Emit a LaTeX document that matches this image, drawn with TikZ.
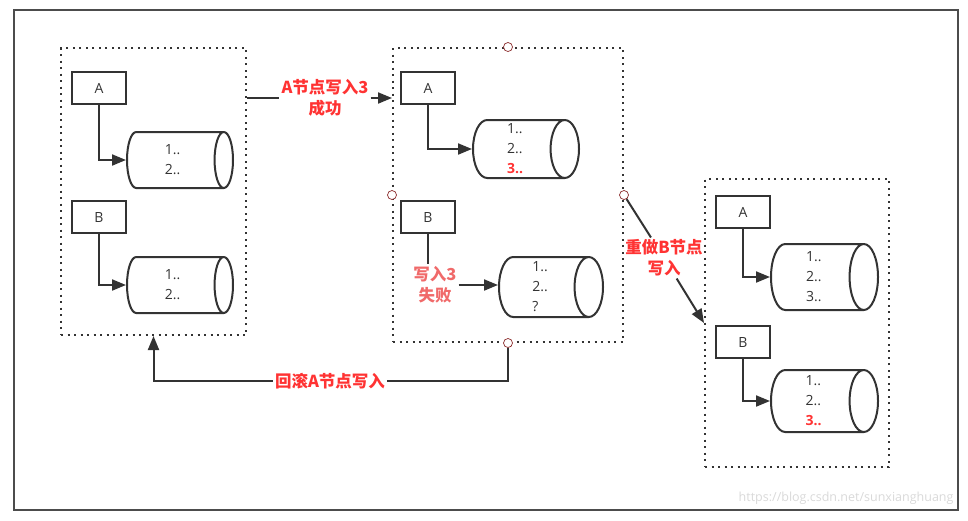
\documentclass[tikz,border=0pt]{standalone}
\usepackage{fontspec}
\setmainfont{Open Sans}
\newfontfamily\cjk{Noto Sans CJK SC}
\usetikzlibrary{arrows.meta,positioning,shapes.geometric}
\definecolor{Ink}{HTML}{333333}
\definecolor{Warn}{HTML}{FF3333}
\definecolor{Soft}{HTML}{F06A6A}
\definecolor{Handle}{HTML}{8B2A2A}

\begin{document}
\begin{tikzpicture}[x=1pt,y=-1pt,
    font=\fontsize{14}{20}\selectfont,
    hostbox/.style={draw=Ink,line width=2pt,minimum width=54pt,minimum height=32pt,text=Ink},
    dbcyl/.style={cylinder,draw=Ink,line width=2pt,shape aspect=0.5,anchor=west,
      minimum width=56pt,minimum height=106pt,align=left,text=Ink},
    group/.style={draw=Ink,line width=2pt,dash pattern=on 2pt off 4.5pt},
    flow/.style={-{Triangle[length=14pt,width=11pt]},draw=Ink,line width=2pt},
    wire/.style={draw=Ink,line width=2pt},
    note/.style={font=\cjk\bfseries\fontsize{16.5}{21}\selectfont,text=Warn,align=center,inner sep=2pt},
    handle/.style={circle,draw=Handle,fill=white,line width=0.7pt,inner sep=0pt,minimum size=9pt}]
    \useasboundingbox (0,0) rectangle (968,520);
    \draw[line width=2pt,draw=black!70] (14,10) rectangle (958,510);
    \node[anchor=south east,text=black!15,font=\fontsize{12.5}{14}\selectfont] (mark) at (957,508) {https://blog.csdn.net/sunxianghuang};

    % first state
    \node[group,minimum width=185pt,minimum height=287pt] (grp1) at (153.5,191.5) {};
    \node[hostbox] (boxA1) at (99,88) {A};
    \node[dbcyl] (db1) at (126,160) {1..\\2..};
    \node[hostbox] (boxB1) at (99,217) {B};
    \node[dbcyl] (db2) at (126,285) {1..\\2..};
    \draw[flow] (boxA1.south) |- (db1.west);
    \draw[flow] (boxB1.south) |- (db2.west);

    % second state
    \node[group,minimum width=230pt,minimum height=294pt] (grp2) at (508,195) {};
    \node[hostbox] (boxA2) at (428,88) {A};
    \node[dbcyl,minimum width=58pt] (db3) at (472,149) {1..\\2..\\{\color{Warn}\bfseries 3..}};
    \node[hostbox] (boxB2) at (428,217) {B};
    \node[dbcyl,minimum width=60pt,minimum height=104pt] (db4) at (498,287) {1..\\2..\\?};
    \draw[flow] (boxA2.south) |- (db3.west);
    \node[note,text=Soft] (fail) at (435,285) {写入3\\失败};
    \draw[wire] (boxB2.south) -- (boxB2.south |- fail.north);
    \draw[flow] (fail.east) -- (fail.east -| db4.west);
    \node[handle] (h2n) at (grp2.north) {};
    \node[handle] (h2w) at (grp2.west) {};
    \node[handle] (h2e) at (grp2.east) {};
    \node[handle] (h2s) at (grp2.south) {};

    % third state
    \node[group,minimum width=184pt,minimum height=288pt] (grp3) at (797,323) {};
    \node[hostbox] (boxA3) at (743,212) {A};
    \node[dbcyl,minimum width=66pt,minimum height=107pt] (db5) at (770,277) {1..\\2..\\3..};
    \node[hostbox] (boxB3) at (743,342) {B};
    \node[dbcyl,minimum width=62pt,minimum height=107pt] (db6) at (770,401) {1..\\2..\\{\color{Warn}\bfseries 3..}};
    \draw[flow] (boxA3.south) |- (db5.west);
    \draw[flow] (boxB3.south) |- (db6.west);

    % transitions
    \node[note] (ok) at (325,98) {A节点写入3\\成功};
    \draw[wire] (grp1.east |- ok) -- (ok);
    \draw[flow] (ok) -- (grp2.west |- ok);
    \node[note] (redo) at (664,258) {重做B节点\\写入};
    \draw[wire] (h2e) -- (redo);
    \draw[flow] (redo) -- (grp3.west);
    \node[note] (back) at (330,381) {回滚A节点写入};
    \draw[wire] (h2s) |- (back);
    \draw[flow] (back) -| (grp1.south);
\end{tikzpicture}
\end{document}
